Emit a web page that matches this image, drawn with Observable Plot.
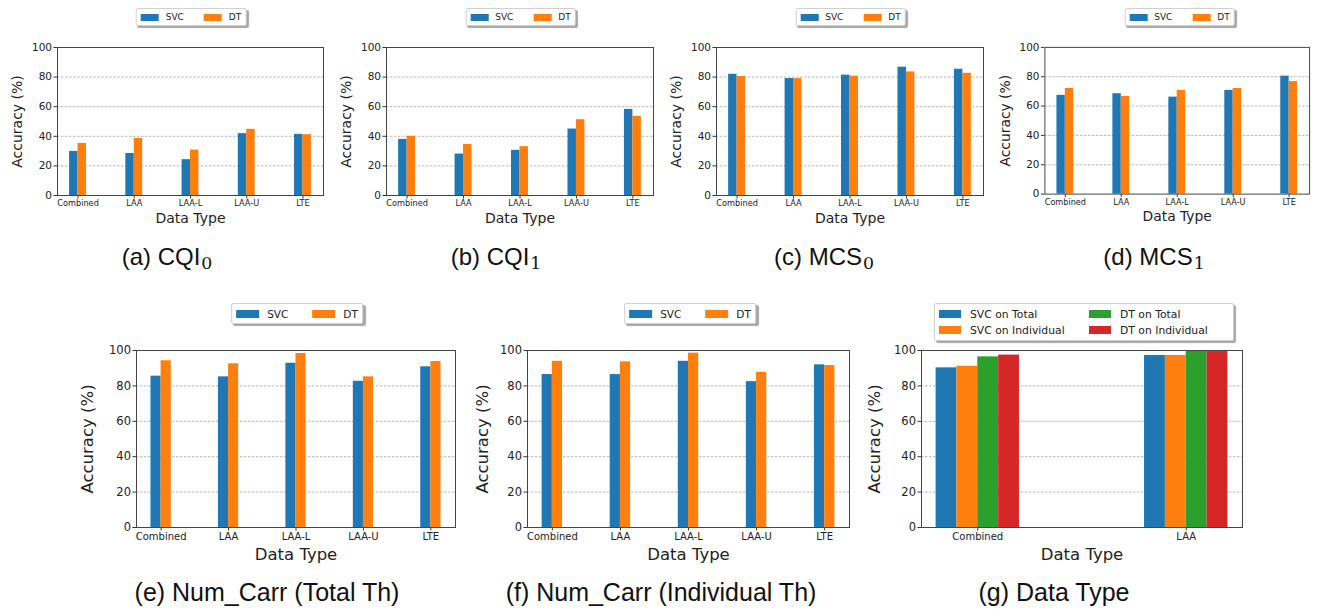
<!DOCTYPE html>
<html>
<head>
<meta charset="utf-8">
<script src="https://cdn.jsdelivr.net/npm/d3@7"></script>
<script src="https://cdn.jsdelivr.net/npm/@observablehq/plot@0.6"></script>
<style>
  html, body { margin: 0; padding: 0; background: #fff; }
  #root { position: relative; width: 1319px; height: 610px; overflow: hidden; background: #fff; font-family: "DejaVu Sans", sans-serif; }
  .panel { position: absolute; }
  .legend { position: absolute; background: #fff; border: 1px solid #d0d0d0; border-radius: 2px;
            box-shadow: 2px 2px 1px rgba(0,0,0,0.35); box-sizing: border-box; color: #222;
            font-family: "DejaVu Sans", sans-serif; transform: translateX(-50%); white-space: nowrap; }
  .legend .item { display: inline-flex; align-items: center; }
  .legend .sw { display: inline-block; }
  .caption { position: absolute; transform: translate(-50%, -50%); font-family: "Liberation Sans", Arial, sans-serif; color: #111; white-space: nowrap; }
  .caption sub { font-family: "DejaVu Serif", "Liberation Serif", serif; font-size: 0.72em; vertical-align: -0.25em; line-height: 0; margin-left: 1px; }
</style>
</head>
<body>
<div id="root"></div>
<script>
// ---------------- data ----------------
const dataTypes = ["Combined", "LAA", "LAA-L", "LAA-U", "LTE"];
const models = ["SVC", "DT"];

const cqi0SVC = [29.8, 28.4, 24.2, 41.8, 41.3];
const cqi0DT  = [35.2, 38.6, 30.7, 44.7, 41.1];

const cqi1SVC = [37.9, 28.0, 30.5, 44.9, 58.2];
const cqi1DT  = [40.0, 34.5, 33.0, 51.2, 53.5];

const mcs0SVC = [81.9, 79.0, 81.3, 86.7, 85.3];
const mcs0DT  = [80.4, 79.0, 80.6, 83.5, 82.6];

const mcs1SVC = [67.3, 68.4, 66.1, 70.7, 80.4];
const mcs1DT  = [72.0, 66.6, 70.7, 72.0, 76.7];

const numCarrTotalSVC = [85.5, 85.1, 92.8, 82.6, 90.8];
const numCarrTotalDT  = [94.2, 92.5, 98.3, 85.1, 93.8];

const numCarrIndSVC = [86.4, 86.4, 93.9, 82.4, 91.9];
const numCarrIndDT  = [93.9, 93.6, 98.5, 87.7, 91.5];

const dtCats = ["Combined", "LAA"];
const dtSeries = ["SVC on Total", "SVC on Individual", "DT on Total", "DT on Individual"];
const svcOnTotal = [90.2, 97.2];
const svcOnIndividual = [91.1, 97.2];
const dtOnTotal = [96.4, 100.0];
const dtOnIndividual = [97.4, 99.4];

const yTicks = [0, 20, 40, 60, 80, 100];
const colors = ["#1f77b4", "#ff7f0e", "#2ca02c", "#d62728"];

// ---------------- panel builder ----------------
const root = document.getElementById("root");

function panel(cfg) {
  const { cats, series, values, frame, barW, tickFS, labelFS, yTickFS, xLabDy, yLabDx, xTickDy } = cfg;
  const [fx0, fx1, fy0, fy1] = frame;
  const n = series.length;
  const rows = [];
  series.forEach((s, k) => values[k].forEach((v, i) => rows.push({ i, k, s, v })));
  const lo = -n / 2 * barW, hi = (cats.length - 1) + n / 2 * barW;
  const pad = (hi - lo) * 0.05;
  const sL = fx0 - 70, sT = fy0 - 12, sR = fx1 + 10, sB = fy1 + 45;
  const chart = Plot.plot({
    width: sR - sL, height: sB - sT,
    marginLeft: fx0 - sL, marginRight: sR - fx1, marginTop: fy0 - sT, marginBottom: sB - fy1,
    style: { fontFamily: "DejaVu Sans, sans-serif", color: "#222", background: "transparent", overflow: "visible" },
    x: { type: "linear", domain: [lo - pad, hi + pad] },
    y: { domain: [0, 100] },
    marks: [
      Plot.gridY({ ticks: [20, 40, 60, 80], stroke: "#999", strokeOpacity: 1, strokeWidth: 0.7, strokeDasharray: "2.5,1.5" }),
      Plot.rectY(rows, {
        x1: d => d.i + (d.k - n / 2) * barW,
        x2: d => d.i + (d.k - n / 2 + 1) * barW,
        y1: 0, y2: "v",
        fill: d => colors[d.k]
      }),
      Plot.axisX({ ticks: d3.range(cats.length), tickFormat: i => cats[i], tickSize: 3.5, tickPadding: xTickDy, fontSize: tickFS, label: null, stroke: "#333" }),
      Plot.axisY({ ticks: yTicks, tickSize: 3.5, tickPadding: 2, fontSize: yTickFS, label: null, stroke: "#333" }),
      Plot.frame({ stroke: "#444", strokeWidth: 1 }),
      Plot.text(["Data Type"], { text: d => d, frameAnchor: "bottom", dy: xLabDy, lineAnchor: "middle", fontSize: labelFS, fill: "#222" }),
      Plot.text(["Accuracy (%)"], { text: d => d, frameAnchor: "left", dx: yLabDx, rotate: -90, textAnchor: "middle", lineAnchor: "middle", fontSize: labelFS, fill: "#222" })
    ]
  });
  const div = document.createElement("div");
  div.className = "panel";
  div.style.left = sL + "px";
  div.style.top = sT + "px";
  div.appendChild(chart);
  root.appendChild(div);
}

function legend(cfg) {
  const { cx, top, h, items, fs, swW, swH, cols, colW, padL, gap } = cfg;
  const el = document.createElement("div");
  el.className = "legend";
  el.style.left = cx + "px";
  el.style.top = top + "px";
  el.style.height = h + "px";
  el.style.fontSize = fs + "px";
  el.style.padding = `0 ${padL}px`;
  el.style.display = "grid";
  el.style.gridTemplateColumns = `repeat(${cols}, ${colW ? colW + "px" : "auto"})`;
  el.style.alignContent = "center";
  el.style.columnGap = gap + "px";
  el.style.rowGap = cfg.rowGap ? cfg.rowGap + "px" : "0";
  const order = cfg.order || items.map((_, i) => i);
  order.forEach(idx => {
    const it = document.createElement("span");
    it.className = "item";
    const sw = document.createElement("span");
    sw.className = "sw";
    sw.style.width = swW + "px";
    sw.style.height = swH + "px";
    sw.style.background = colors[idx];
    sw.style.marginRight = cfg.swGap + "px";
    it.appendChild(sw);
    it.appendChild(document.createTextNode(items[idx]));
    el.appendChild(it);
  });
  root.appendChild(el);
}

function caption(html, cx, cy, fs) {
  const el = document.createElement("div");
  el.className = "caption";
  el.style.left = cx + "px";
  el.style.top = cy + "px";
  el.style.fontSize = fs + "px";
  el.innerHTML = html;
  root.appendChild(el);
}

// ---------------- top row ----------------
const topCommon = { cats: dataTypes, series: models, barW: 0.15, tickFS: 8.2, labelFS: 14, yTickFS: 10.5, xLabDy: 23, yLabDx: -40, xTickDy: 1.5 };
const topPanels = [
  { values: [cqi0SVC, cqi0DT], frame: [57, 323, 47, 195], cap: "(a) CQI<sub>0</sub>", capX: 167 },
  { values: [cqi1SVC, cqi1DT], frame: [386, 653, 47, 195], cap: "(b) CQI<sub>1</sub>", capX: 496 },
  { values: [mcs0SVC, mcs0DT], frame: [716, 983, 47, 195], cap: "(c) MCS<sub>0</sub>", capX: 824 },
  { values: [mcs1SVC, mcs1DT], frame: [1045, 1312, 47, 195], cap: "(d) MCS<sub>1</sub>", capX: 1154 }
];
topPanels.forEach(p => {
  panel({ ...topCommon, values: p.values, frame: p.frame });
  legend({ cx: (p.frame[0] + p.frame[1]) / 2 + 1, top: 8, h: 18, items: models, fs: 9, swW: 18, swH: 7, cols: 2, padL: 4, gap: 20, swGap: 7 });
  caption(p.cap, p.capX, 257, 24);
});

// ---------------- bottom row ----------------
const botCommon = { cats: dataTypes, series: models, barW: 0.15, tickFS: 10, labelFS: 16.5, yTickFS: 11.5, xLabDy: 27, xTickDy: 2 };
panel({ ...botCommon, values: [numCarrTotalSVC, numCarrTotalDT], frame: [136, 455, 350, 527], yLabDx: -49 });
legend({ cx: 297, top: 303, h: 21, items: models, fs: 10.5, swW: 23, swH: 8, cols: 2, padL: 4, gap: 24, swGap: 8 });
caption("(e) Num_Carr (Total Th)", 267, 592, 25);

panel({ ...botCommon, values: [numCarrIndSVC, numCarrIndDT], frame: [527, 849, 350, 527], yLabDx: -45 });
legend({ cx: 690, top: 303, h: 21, items: models, fs: 10.5, swW: 23, swH: 8, cols: 2, padL: 4, gap: 24, swGap: 8 });
caption("(f) Num_Carr (Individual Th)", 661, 592, 25);

panel({ cats: dtCats, series: dtSeries, values: [svcOnTotal, svcOnIndividual, dtOnTotal, dtOnIndividual],
        frame: [921, 1242, 350, 527], barW: 0.1, tickFS: 10, labelFS: 16.5, yTickFS: 11.5, xLabDy: 27, yLabDx: -46.5, xTickDy: 2 });
legend({ cx: 1084, top: 303, h: 38, items: dtSeries, order: [0, 2, 1, 3], fs: 10.8, swW: 22, swH: 8, cols: 2, colW: 140, padL: 4, gap: 10, swGap: 9, rowGap: 3 });
caption("(g) Data Type", 1054, 592, 25);
</script>
</body>
</html>
